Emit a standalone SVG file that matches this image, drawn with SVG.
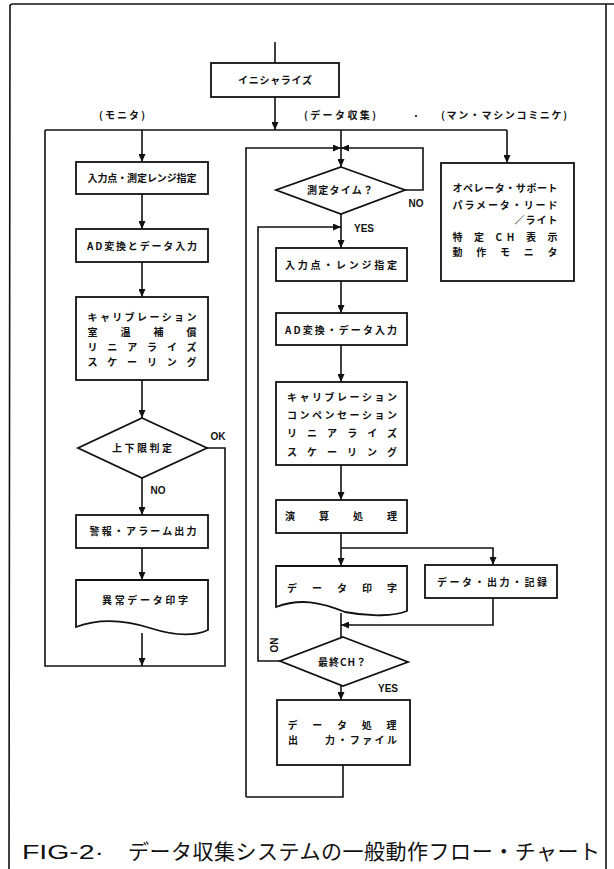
<svg xmlns="http://www.w3.org/2000/svg" width="614" height="869" viewBox="0 0 614 869">
<defs>
<marker id="ah" markerWidth="8" markerHeight="7" refX="8" refY="3.5" orient="auto" markerUnits="userSpaceOnUse"><path d="M0,0 L8,3.5 L0,7 z" fill="#111"/></marker>
</defs>
<style>
.b{fill:#fff;stroke:#111;stroke-width:1.8}
.l{fill:none;stroke:#111;stroke-width:1.6}
.a{fill:none;stroke:#111;stroke-width:1.6;marker-end:url(#ah)}
.t{font-family:"Noto Sans CJK JP","Noto Sans",sans-serif;font-weight:700;font-size:10px;fill:#111;text-anchor:middle}
.e{font-family:"Liberation Sans",Arial,sans-serif;font-weight:700;font-size:10px;fill:#111;text-anchor:middle}
.c{font-family:"Noto Sans CJK JP",sans-serif;font-size:21px;fill:#111}
</style>
<rect width="614" height="869" fill="#fff"/>
<g id="border"><path d="M9,869 L10,6 Q10,4 13,4 L614,4" class="l" stroke-width="2.4"/><path d="M606,4 L606,869" class="l" stroke-width="1.4"/></g>

<g id="connectors">
<path d="M275,42 L275,63" class="l"/>
<path d="M275,97 L275,130" class="a"/>
<path d="M45,130 L507,130" class="l"/>
<path d="M142,130 L142,162" class="a"/>
<path d="M341,130 L341,148" class="l"/>
<path d="M341,148 L341,167" class="a"/>
<path d="M507,130 L507,163" class="a"/>
<path d="M142,194 L142,229" class="a"/>
<path d="M142,262 L142,297" class="a"/>
<path d="M142,380 L142,418" class="a"/>
<path d="M142,478 L142,515" class="a"/>
<path d="M142,548 L142,580" class="a"/>
<path d="M142,633 L142,666" class="a"/>
<path d="M207,448 L225,448 L225,666 L45,666 L45,130" class="l"/>
<path d="M246,797 L246,148 L341,148" class="a"/>
<path d="M405,190 L423,190 L423,148 L341,148" class="a"/>
<path d="M341,214 L341,248" class="a"/>
<path d="M280,661 L258,661 L258,227 L341,227" class="a"/>
<path d="M341,281 L341,313" class="a"/>
<path d="M341,345 L341,382" class="a"/>
<path d="M341,465 L341,500" class="a"/>
<path d="M341,533 L341,566" class="a"/>
<path d="M341,548 L493,548 L493,565" class="a"/>
<path d="M493,598 L493,625 L341,625" class="a"/>
<path d="M341,613 L341,637" class="l"/>
<path d="M341,686 L341,700" class="a"/>
<path d="M343,765 L343,797 L246,797" class="l"/>
</g>

<g id="init"><rect x="211" y="63" width="128" height="34" class="b"/><text x="275" y="84" class="t" textLength="74" lengthAdjust="spacing">イニシャライズ</text></g>

<g id="headers">
<text x="122" y="119" class="t" textLength="46" lengthAdjust="spacing">(モニタ)</text>
<text x="340" y="119" class="t" textLength="72" lengthAdjust="spacing">(データ収集)</text>
<circle cx="416" cy="116" r="1.1" fill="#111"/>
<text x="504" y="119" class="t" textLength="126" lengthAdjust="spacing">(マン・マシンコミニケ)</text>
</g>

<g id="m1"><rect x="76" y="162" width="132" height="32" class="b"/><text x="142" y="182" class="t" textLength="109" lengthAdjust="spacing">入力点・測定レンジ指定</text></g>
<g id="m2"><rect x="76" y="229" width="132" height="33" class="b"/><text x="142" y="250" class="t" textLength="110" lengthAdjust="spacing">AD変換とデータ入力</text></g>
<g id="m3"><rect x="76" y="297" width="132" height="83" class="b"/>
<text x="142" y="321" class="t" textLength="109" lengthAdjust="spacing">キャリブレーション</text>
<text x="142" y="336" class="t" textLength="109" lengthAdjust="spacing">室温補償</text>
<text x="142" y="351" class="t" textLength="109" lengthAdjust="spacing">リニアライズ</text>
<text x="142" y="366" class="t" textLength="109" lengthAdjust="spacing">スケーリング</text></g>
<g id="m4"><path d="M142,418 L207,448 L142,478 L78,448 Z" class="b"/><text x="142" y="452" class="t" textLength="60" lengthAdjust="spacing">上下限判定</text>
<text x="218" y="440" class="e">OK</text><text x="158" y="494" class="e">NO</text></g>
<g id="m5"><rect x="76" y="515" width="132" height="33" class="b"/><text x="143" y="535" class="t" textLength="107" lengthAdjust="spacing">警報・アラーム出力</text></g>
<g id="m6"><path d="M76,580 L208,580 L208,630 C195,636 175,636 150,628 C125,620 100,618 76,627 Z" class="b"/><text x="145" y="604" class="t" textLength="86" lengthAdjust="spacing">異常データ印字</text></g>

<g id="d1"><path d="M341,167 L405,190 L341,214 L276,190 Z" class="b"/><text x="340" y="194" class="t" textLength="66" lengthAdjust="spacing">測定タイム？</text>
<text x="416" y="207" class="e">NO</text><text x="364" y="232" class="e">YES</text></g>
<g id="d2"><rect x="276" y="248" width="131" height="33" class="b"/><text x="341" y="269" class="t" textLength="112" lengthAdjust="spacing">入力点・レンジ指定</text></g>
<g id="d3"><rect x="276" y="313" width="131" height="32" class="b"/><text x="341" y="334" class="t" textLength="112" lengthAdjust="spacing">AD変換・データ入力</text></g>
<g id="d4"><rect x="276" y="382" width="131" height="83" class="b"/>
<text x="342" y="401" class="t" textLength="110" lengthAdjust="spacing">キャリブレーション</text>
<text x="342" y="419" class="t" textLength="110" lengthAdjust="spacing">コンペンセーション</text>
<text x="342" y="437" class="t" textLength="110" lengthAdjust="spacing">リニアライズ</text>
<text x="342" y="456" class="t" textLength="110" lengthAdjust="spacing">スケーリング</text></g>
<g id="d5"><rect x="276" y="500" width="131" height="33" class="b"/><text x="341" y="520" class="t" textLength="112" lengthAdjust="spacing">演算処理</text></g>
<g id="d6"><path d="M276,566 L407,566 L407,611 C395,616 370,617 345,612 C320,602 300,598 276,607 Z" class="b"/><text x="342" y="592" class="t" textLength="110" lengthAdjust="spacing">データ印字</text></g>
<g id="d7"><rect x="425" y="565" width="132" height="33" class="b"/><text x="492" y="586" class="t" textLength="110" lengthAdjust="spacing">データ・出力・記録</text></g>
<g id="d8"><path d="M343,637 L408,662 L343,686 L280,661 Z" class="b"/><text x="342" y="666" class="t" textLength="48" lengthAdjust="spacing">最終CH？</text>
<text x="270" y="645" class="e" transform="rotate(90 270 645)">NO</text><text x="388" y="692" class="e">YES</text></g>
<g id="d9"><rect x="277" y="700" width="133" height="65" class="b"/>
<text x="342" y="729" class="t" textLength="109" lengthAdjust="spacing">データ処理</text>
<text x="293" y="744" class="t">出</text>
<text x="361" y="744" class="t" textLength="72" lengthAdjust="spacing">力・ファイル</text></g>

<g id="r1"><rect x="441" y="163" width="133" height="118" class="b"/>
<text x="505" y="192" class="t" textLength="105" lengthAdjust="spacing">オペレータ・サポート</text>
<text x="505" y="209" class="t" textLength="105" lengthAdjust="spacing">パラメータ・リード</text>
<text x="536" y="224" class="t" textLength="43" lengthAdjust="spacing">／ライト</text>
<text x="505" y="241" class="t" textLength="105" lengthAdjust="spacing">特 定 CH 表 示</text>
<text x="505" y="256" class="t" textLength="105" lengthAdjust="spacing">動作モニタ</text></g>

<g id="caption">
<text x="22" y="859" class="c" style="font-family:'Liberation Sans',Arial,sans-serif;font-size:20px" textLength="82" lengthAdjust="spacingAndGlyphs">FIG-2·</text>
<text x="128" y="859" class="c" textLength="472" lengthAdjust="spacing">データ収集システムの一般動作フロー・チャート</text>
</g>
</svg>
